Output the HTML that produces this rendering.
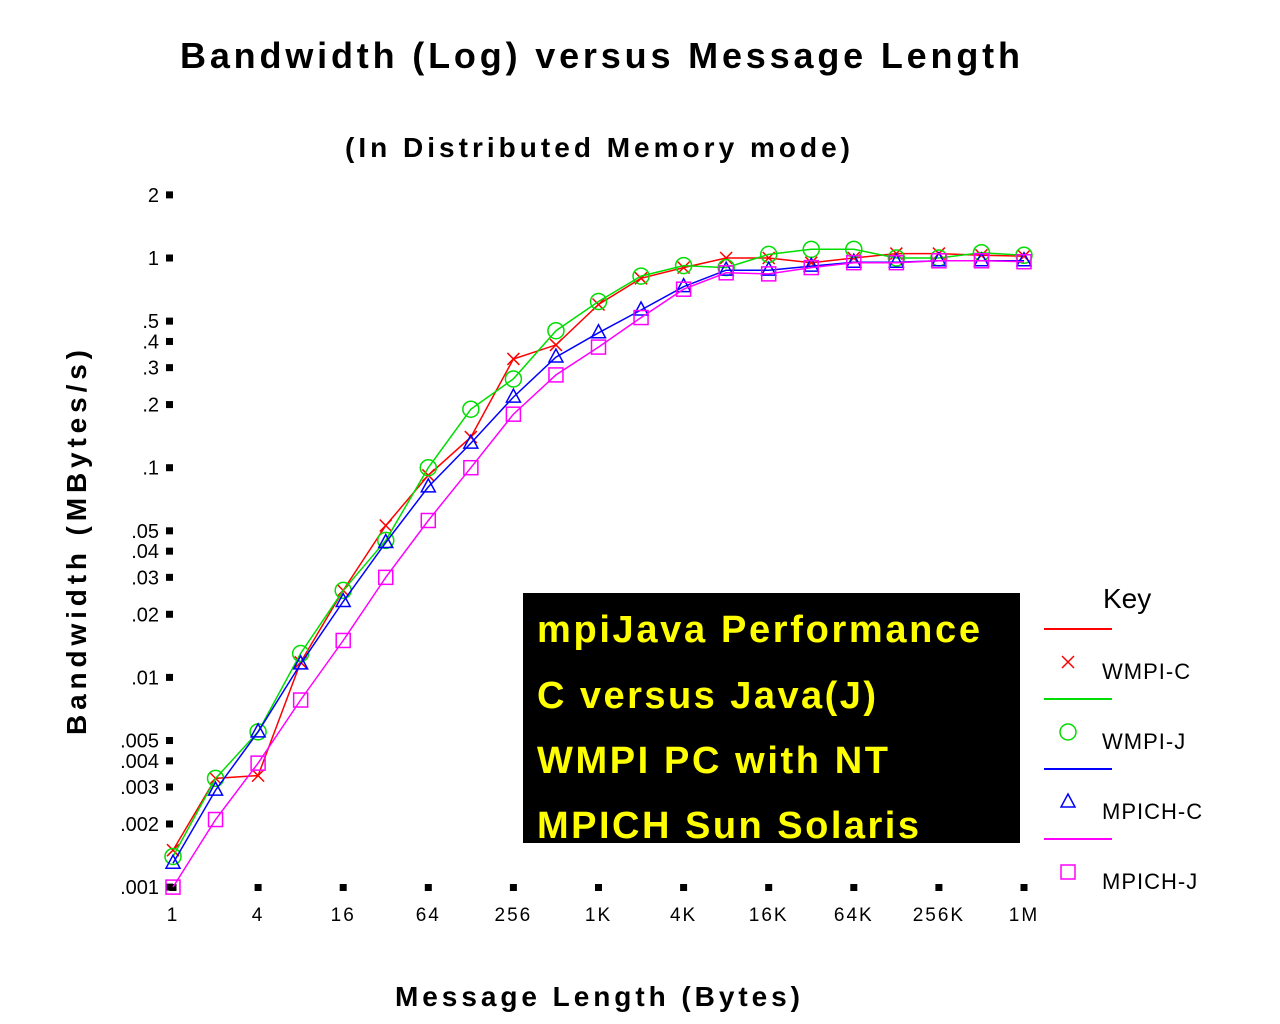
<!DOCTYPE html>
<html><head><meta charset="utf-8"><style>
html,body{margin:0;padding:0;background:#fff;width:1280px;height:1024px;overflow:hidden}
svg text{font-family:"Liberation Sans",sans-serif}
</style></head><body>
<svg id="chart" width="1280" height="1024" viewBox="0 0 1280 1024">
<text x="180" y="68" textLength="840" lengthAdjust="spacing" font-size="36" font-weight="bold">Bandwidth (Log) versus Message Length</text>
<text x="345" y="157" textLength="505" lengthAdjust="spacing" font-size="28" font-weight="bold">(In Distributed Memory mode)</text>
<text transform="translate(86,735) rotate(-90)" textLength="385" lengthAdjust="spacing" font-size="28" font-weight="bold">Bandwidth (MBytes/s)</text>
<text x="395" y="1006" textLength="405" lengthAdjust="spacing" font-size="28" font-weight="bold">Message Length (Bytes)</text>
<g id="axes"></g>
<g id="series"></g>
<rect x="523" y="593" width="497" height="250" fill="#000"/>
<g font-size="38" font-weight="bold" fill="#ffff00">
<text x="537" y="642" textLength="443" lengthAdjust="spacing" fill="#ffff00">mpiJava Performance</text>
<text x="537" y="708" textLength="339" lengthAdjust="spacing" fill="#ffff00">C versus Java(J)</text>
<text x="537" y="773" textLength="351" lengthAdjust="spacing" fill="#ffff00">WMPI PC with NT</text>
<text x="537" y="838" textLength="382" lengthAdjust="spacing" fill="#ffff00">MPICH Sun Solaris</text>
</g>
<g id="legend">
<text x="1103" y="608" font-size="28">Key</text>
</g>
</svg>
<script>
const xLabels = ["1","4","16","64","256","1K","4K","16K","64K","256K","1M"];
const yTicks = [2,1,.5,.4,.3,.2,.1,.05,.04,.03,.02,.01,.005,.004,.003,.002,.001];
const yTickLabels = ["2","1",".5",".4",".3",".2",".1",".05",".04",".03",".02",".01",".005",".004",".003",".002",".001"];
const seriesNames = ["WMPI-C","WMPI-J","MPICH-C","MPICH-J"];
const wmpiC = [0.0015,0.0033,0.0034,0.0118,0.026,0.053,0.092,0.14,0.33,0.385,0.6,0.8,0.9,1.0,1.0,0.95,1.0,1.05,1.05,1.03,1.02];
const wmpiJ = [0.0014,0.0033,0.0055,0.013,0.026,0.045,0.1,0.19,0.265,0.45,0.62,0.82,0.92,0.9,1.04,1.1,1.1,1.0,1.0,1.06,1.03];
const mpichC = [0.0013,0.0029,0.0055,0.0116,0.023,0.044,0.081,0.131,0.217,0.337,0.44,0.565,0.73,0.875,0.875,0.915,0.955,0.955,0.97,0.97,0.97];
const mpichJ = [0.001,0.0021,0.0039,0.0078,0.015,0.03,0.056,0.1,0.18,0.277,0.376,0.52,0.71,0.85,0.84,0.9,0.95,0.95,0.97,0.97,0.96];

const NS="http://www.w3.org/2000/svg";
const X0=173,X1=1024,Y1=258,DEC=209.7;
function xPos(i){return X0+(X1-X0)*i/20;}
function yPos(v){return Y1-Math.log10(v)*DEC;}
function mk(tag,attrs,parent){const e=document.createElementNS(NS,tag);for(const k in attrs)e.setAttribute(k,attrs[k]);parent.appendChild(e);return e;}
const axes=document.getElementById('axes');
yTicks.forEach((v,i)=>{
  const y=yPos(v);
  const r=mk('rect',{x:166,y:y-3.5,width:7,height:7,fill:'#000'},axes);
  
  
  const t=mk('text',{x:159,y:y+7,'text-anchor':'end','font-size':20},axes);
  
  
  t.textContent=yTickLabels[i];
});
xLabels.forEach((l,i)=>{
  const x=xPos(i*2);
  const r=mk('rect',{x:x-3.5,y:884,width:7,height:7,fill:'#000'},axes);
  
  
  const t=mk('text',{x:x,y:921,'text-anchor':'middle','font-size':19,'letter-spacing':'2'},axes);
  
  
  t.textContent=l;
});
const colors=["#ff0000","#00dd00","#0000ff","#ff00ff"];
const datas=[wmpiC,wmpiJ,mpichC,mpichJ];
const kinds=["x","o","t","s"];
const sg=document.getElementById('series');
function marker(kind,x,y,c,parent){
  let e;
  if(kind==="x"){e=mk('path',{d:`M${x-6} ${y-6}L${x+6} ${y+6}M${x+6} ${y-6}L${x-6} ${y+6}`,stroke:c,'stroke-width':1.5,fill:'none'},parent);}
  else if(kind==="o"){e=mk('circle',{cx:x,cy:y,r:8,stroke:c,'stroke-width':1.5,fill:'none'},parent);}
  else if(kind==="t"){e=mk('path',{d:`M${x} ${y-8}L${x+7} ${y+5}L${x-7} ${y+5}Z`,stroke:c,'stroke-width':1.5,fill:'none'},parent);}
  else {e=mk('rect',{x:x-7,y:y-7,width:14,height:14,stroke:c,'stroke-width':1.5,fill:'none'},parent);}
  return e;
}
datas.forEach((d,s)=>{
  const g=mk('g',{},sg);
  
  
  const pts=d.map((v,i)=>xPos(i).toFixed(1)+','+yPos(v).toFixed(1)).join(' ');
  const pl=mk('polyline',{points:pts,fill:'none',stroke:colors[s],'stroke-width':1.5},g);
  
  
  d.forEach((v,i)=>{
    const m=marker(kinds[s],xPos(i),yPos(v),colors[s],g);
    
    
  });
});
const lg=document.getElementById('legend');
seriesNames.forEach((n,s)=>{
  const y0=629+s*70;
  const ln=mk('line',{x1:1044,x2:1112,y1:y0,y2:y0,stroke:colors[s],'stroke-width':2},lg);
  
  
  const m=marker(kinds[s],1068,y0+33,colors[s],lg);
  
  
  const t=mk('text',{x:1102,y:y0+50,'font-size':22,'letter-spacing':'1'},lg);
  
  
  t.textContent=n;
});
</script>
</body></html>
